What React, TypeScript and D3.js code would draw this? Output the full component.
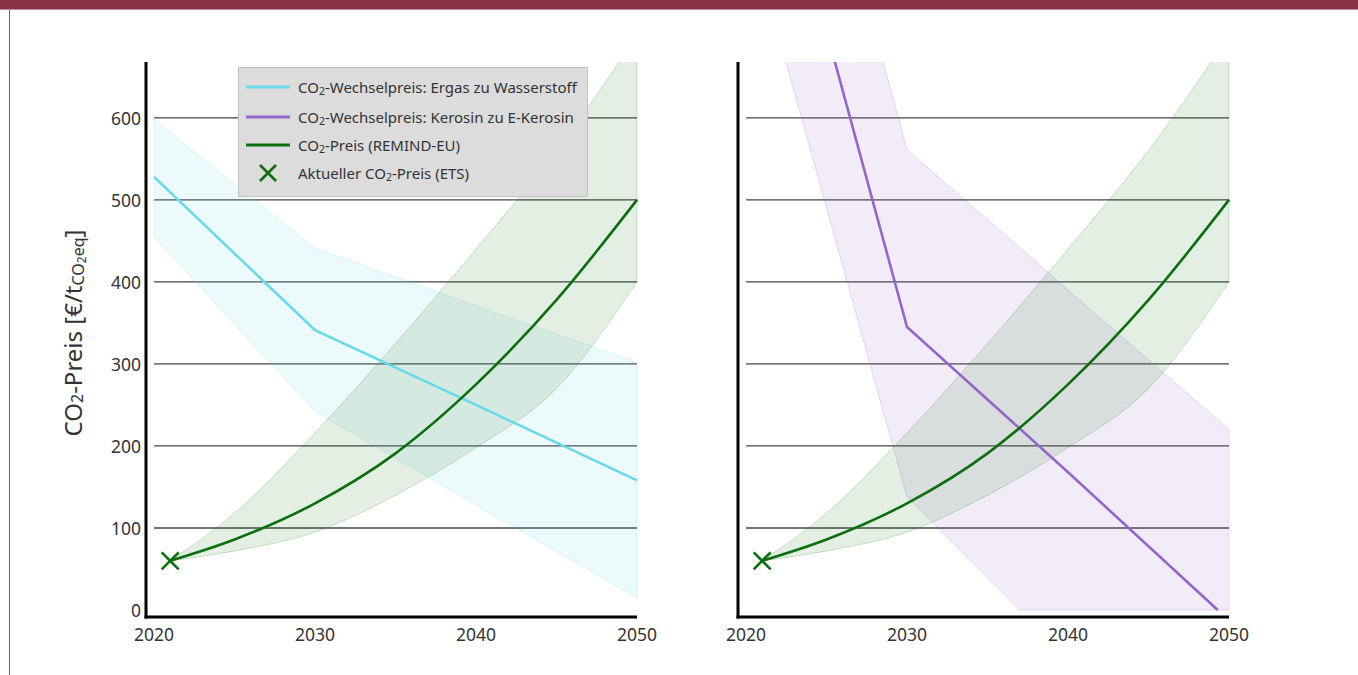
import React from "react";
import * as d3 from "d3";

// ---------- data ----------
const remindYears = [2021, 2025, 2030, 2035, 2040, 2045, 2050];
const remindMid = [60, 86, 130, 191, 275, 378, 500];
const remindHigh = [60, 118, 216, 325, 440, 560, 700];
const remindLow = [60, 72, 95, 140, 198, 270, 400];

const h2Years = [2020, 2030, 2040, 2050];
const h2Mid = [528, 341, 250, 158];
const h2High = [598, 441, 371, 302];
const h2Low = [455, 242, 128, 15];

const keroYears = [2020, 2030, 2040, 2049.3];
const keroMid = [1066, 345, 168, 0];
const keroBandYears = [2020, 2030, 2037, 2040, 2050];
const keroHigh = [1281, 561, 442, 390, 220];
const keroLow = [843, 138, 0, 0, 0];

const etsYear = [2021];
const etsValue = [60];

const xTicks = [2020, 2030, 2040, 2050];
const yTicks = [0, 100, 200, 300, 400, 500, 600];
const gridValues = [100, 200, 300, 400, 500, 600];

const legendItems = [
  { kind: "line", color: "#6ad8ea", label: "-Wechselpreis: Ergas zu Wasserstoff" },
  { kind: "line", color: "#9466c9", label: "-Wechselpreis: Kerosin zu E-Kerosin" },
  { kind: "line", color: "#0c6e0c", label: "-Preis (REMIND-EU)" },
  { kind: "x", color: "#0c6e0c", label: "-Preis (ETS)", prefix: "Aktueller " },
];

const CYAN = "#6ad8ea";
const PURPLE = "#9466c9";
const GREEN = "#0c6e0c";
const FONT = "'Noto Sans', 'Open Sans', sans-serif";

const W = 1358;
const H = 675;
const yScale = d3.scaleLinear().domain([-8.5, 668]).range([617, 62]);

type Band = { years: number[]; hi: number[]; lo: number[]; color: string; curve?: any };
type Line = { years: number[]; vals: number[]; color: string; curve?: any };

function Panel({ id, x0, showY, bands, lines }: { id: string; x0: number; showY: boolean; bands: Band[]; lines: Line[] }) {
  const x = d3.scaleLinear().domain([2019.5, 2050]).range([x0, x0 + 491]);
  const [yTop, yBot] = [62, 617];
  const clipId = `clip-${id}`;
  const area = (b: Band) =>
    d3
      .area<number>()
      .x((_, i) => x(b.years[i]))
      .y0((_, i) => yScale(b.lo[i]))
      .y1((_, i) => yScale(b.hi[i]))
      .curve(b.curve || d3.curveLinear)(b.years) || "";
  const line = (l: Line) =>
    d3
      .line<number>()
      .x((_, i) => x(l.years[i]))
      .y((_, i) => yScale(l.vals[i]))
      .curve(l.curve || d3.curveLinear)(l.years) || "";
  const ax = x(2020);
  const bx = x(2050);
  return (
    <g>
      <defs>
        <clipPath id={clipId}>
          <rect x={x0} y={yTop} width={bx - x0 + 2} height={yBot - yTop} />
        </clipPath>
      </defs>
      {gridValues.map((v) => (
        <line key={v} x1={ax} x2={bx} y1={yScale(v)} y2={yScale(v)} stroke="#444" strokeWidth={1.3} />
      ))}
      <g clipPath={`url(#${clipId})`}>
        {bands.map((b, i) => (
          <path key={i} d={area(b)} fill={b.color} fillOpacity={0.12} stroke={b.color} strokeOpacity={0.22} strokeWidth={1} />
        ))}
        {lines.map((l, i) => (
          <path key={i} d={line(l)} fill="none" stroke={l.color} strokeWidth={2.6} />
        ))}
        {etsYear.map((yr, i) => {
          const cx = x(yr);
          const cy = yScale(etsValue[i]);
          const s = 8.5;
          return (
            <path
              key={i}
              d={`M${cx - s},${cy - s}L${cx + s},${cy + s}M${cx - s},${cy + s}L${cx + s},${cy - s}`}
              stroke={GREEN}
              strokeWidth={2.6}
              fill="none"
            />
          );
        })}
      </g>
      <line x1={x0} x2={x0} y1={yTop} y2={yBot + 1.5} stroke="#000" strokeWidth={3} />
      <line x1={x0 - 1.5} x2={bx} y1={yBot} y2={yBot} stroke="#000" strokeWidth={3} />
      {xTicks.map((t) => (
        <text key={t} x={x(t)} y={634} textAnchor="middle" dominantBaseline="central" fontSize={17.5} fill="#333" fontFamily={FONT}>
          {t}
        </text>
      ))}
      {showY &&
        yTicks.map((t) => (
          <text key={t} x={x0 - 5} y={yScale(t)} textAnchor="end" dominantBaseline="central" fontSize={17.5} fill="#333" fontFamily={FONT}>
            {t}
          </text>
        ))}
    </g>
  );
}

function Legend() {
  const lx = 238.5;
  const ly = 67.5;
  const rows = [87, 117, 145, 173];
  return (
    <g fontFamily={FONT}>
      <rect x={lx} y={ly} width={349} height={129} fill="#dcdcdc" stroke="#c2c2c2" strokeWidth={1} />
      {legendItems.map((it, i) => {
        const y = rows[i];
        return (
          <g key={i}>
            {it.kind === "line" ? (
              <line x1={246} x2={290} y1={y} y2={y} stroke={it.color} strokeWidth={3} />
            ) : (
              <path
                d={`M${268 - 8},${y - 8}L${268 + 8},${y + 8}M${268 - 8},${y + 8}L${268 + 8},${y - 8}`}
                stroke={it.color}
                strokeWidth={2.6}
                fill="none"
              />
            )}
            <text x={298} y={y} dominantBaseline="central" fontSize={15} fill="#333">
              {it.prefix || ""}CO
              <tspan fontSize={10.5} dy={4}>2</tspan>
              <tspan dy={-4}>{it.label}</tspan>
            </text>
          </g>
        );
      })}
    </g>
  );
}

export default function App() {
  const green: Band = { years: remindYears, hi: remindHigh, lo: remindLow, color: "#1d7a1d", curve: d3.curveMonotoneX };
  const greenLine: Line = { years: remindYears, vals: remindMid, color: GREEN, curve: d3.curveMonotoneX };
  const cyanBand: Band = { years: h2Years, hi: h2High, lo: h2Low, color: CYAN };
  const purpleBand: Band = { years: keroBandYears, hi: keroHigh, lo: keroLow, color: PURPLE };
  return (
    <svg width={W} height={H} style={{ position: "absolute", left: 0, top: 0, background: "#fff" }}>
      <rect x={0} y={0} width={W} height={9} fill="#8a3347" />
      <line x1={0} x2={W} y1={9.5} y2={9.5} stroke="#c58a97" strokeWidth={1} />
      <line x1={9.5} x2={9.5} y1={10} y2={H} stroke="#9b4a5c" strokeWidth={1} />
      <Panel
        id="left"
        x0={146}
        showY={true}
        bands={[cyanBand, green]}
        lines={[{ years: h2Years, vals: h2Mid, color: CYAN }, greenLine]}
      />
      <Panel
        id="right"
        x0={738}
        showY={false}
        bands={[purpleBand, green]}
        lines={[{ years: keroYears, vals: keroMid, color: PURPLE }, greenLine]}
      />
      <Legend />
      <text
        transform="translate(72,333) rotate(-90)"
        textAnchor="middle"
        dominantBaseline="central"
        fontSize={24}
        fill="#333"
        fontFamily={FONT}
      >
        CO
        <tspan fontSize={16} dy={5}>2</tspan>
        <tspan dy={-5}>-Preis [€/t</tspan>
        <tspan fontSize={16} dy={6}>CO</tspan>
        <tspan fontSize={12} dy={3}>2</tspan>
        <tspan fontSize={16} dy={-3}>eq</tspan>
        <tspan dy={-6}>]</tspan>
      </text>
    </svg>
  );
}
